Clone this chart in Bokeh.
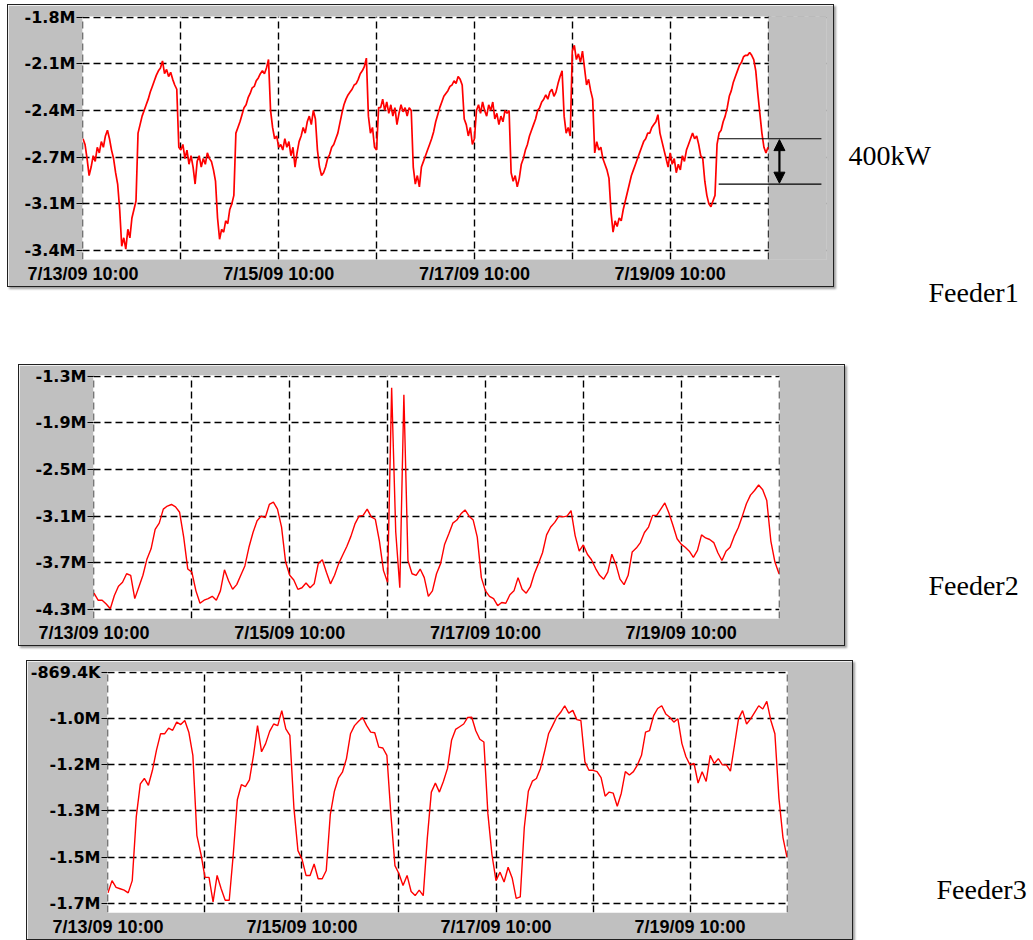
import numpy as np
from bokeh.plotting import figure
from bokeh.models import Range1d, FixedTicker, Arrow, NormalHead, Spacer
from bokeh.layouts import row, column
from bokeh.embed import file_html
from bokeh.resources import INLINE
from bokeh.core.properties import value

# ---------------- data ----------------
# x axis: hours after 7/13/09 10:00
X_TICK_HOURS = [0, 48, 96, 144]
X_TICK_LABELS = ["7/13/09 10:00", "7/15/09 10:00", "7/17/09 10:00", "7/19/09 10:00"]
X_GRID_HOURS = [0, 24, 48, 72, 96, 120, 144, 168]

# Feeder 1: 30-minute samples, MW
F1_STEP_H = 0.5
F1_MW = [
    -2.66, -2.70, -2.80, -2.92, -2.86, -2.78, -2.82, -2.72, -2.76, -2.68, -2.72, -2.64,
    -2.60, -2.66, -2.74, -2.80, -2.90, -2.98, -3.16, -3.42, -3.36, -3.44, -3.30, -3.36,
    -3.22, -3.16, -3.10, -2.62, -2.56, -2.50, -2.46, -2.42, -2.38, -2.33, -2.29, -2.25,
    -2.21, -2.18, -2.16, -2.11, -2.20, -2.17, -2.22, -2.19, -2.24, -2.28, -2.31, -2.72,
    -2.74, -2.70, -2.80, -2.74, -2.84, -2.78, -2.86, -2.98, -2.82, -2.78, -2.86, -2.80,
    -2.84, -2.76, -2.80, -2.82, -2.88, -2.96, -3.22, -3.37, -3.30, -3.32, -3.24, -3.26,
    -3.16, -3.12, -3.06, -2.62, -2.58, -2.54, -2.49, -2.44, -2.42, -2.37, -2.34, -2.30,
    -2.29, -2.25, -2.23, -2.20, -2.18, -2.20, -2.16, -2.10, -2.46, -2.58, -2.66, -2.64,
    -2.72, -2.70, -2.74, -2.66, -2.72, -2.68, -2.78, -2.72, -2.86, -2.76, -2.68, -2.64,
    -2.58, -2.62, -2.54, -2.50, -2.56, -2.46, -2.52, -2.74, -2.86, -2.92, -2.90, -2.86,
    -2.80, -2.77, -2.72, -2.70, -2.66, -2.62, -2.55, -2.48, -2.42, -2.38, -2.35, -2.33,
    -2.31, -2.28, -2.27, -2.24, -2.20, -2.18, -2.15, -2.09, -2.50, -2.62, -2.58, -2.72,
    -2.74, -2.44, -2.44, -2.38, -2.46, -2.40, -2.48, -2.42, -2.50, -2.44, -2.56, -2.48,
    -2.42, -2.47, -2.44, -2.50, -2.44, -2.46, -2.86, -2.98, -2.92, -3.00, -2.86, -2.82,
    -2.78, -2.74, -2.70, -2.66, -2.61, -2.54, -2.49, -2.44, -2.40, -2.36, -2.34, -2.32,
    -2.29, -2.28, -2.25, -2.27, -2.22, -2.24, -2.28, -2.52, -2.56, -2.64, -2.58, -2.70,
    -2.66, -2.46, -2.42, -2.48, -2.40, -2.46, -2.50, -2.42, -2.46, -2.40, -2.52, -2.48,
    -2.56, -2.50, -2.54, -2.46, -2.48, -2.46, -2.90, -2.96, -2.92, -3.00, -2.94, -2.84,
    -2.80, -2.74, -2.70, -2.64, -2.60, -2.56, -2.52, -2.46, -2.44, -2.40, -2.38, -2.35,
    -2.38, -2.33, -2.31, -2.36, -2.33, -2.27, -2.22, -2.18, -2.50, -2.62, -2.58, -2.64,
    -2.04, -2.00, -2.10, -2.06, -2.12, -2.04, -2.16, -2.28, -2.24, -2.32, -2.38, -2.76,
    -2.68, -2.74, -2.72, -2.80, -2.84, -2.88, -2.94, -3.18, -3.32, -3.24, -3.28, -3.22,
    -3.24, -3.16, -3.10, -3.04, -2.98, -2.92, -2.88, -2.84, -2.80, -2.76, -2.72, -2.68,
    -2.66, -2.62, -2.62, -2.58, -2.56, -2.54, -2.49, -2.62, -2.68, -2.74, -2.80, -2.86,
    -2.76, -2.84, -2.80, -2.90, -2.84, -2.88, -2.78, -2.82, -2.74, -2.70, -2.66, -2.62,
    -2.66, -2.64, -2.70, -2.78, -2.80, -2.96, -3.06, -3.12, -3.14, -3.10, -3.06, -2.70,
    -2.62, -2.60, -2.54, -2.50, -2.44, -2.36, -2.32, -2.26, -2.22, -2.18, -2.14, -2.12,
    -2.08, -2.07, -2.07, -2.05, -2.07, -2.10, -2.18, -2.34, -2.48, -2.62, -2.72, -2.76,
    -2.72,
]
F1_Y_TICKS = [-1.80, -2.13, -2.46, -2.79, -3.12, -3.45]
F1_Y_LABELS = ["-1.8M", "-2.1M", "-2.4M", "-2.7M", "-3.1M", "-3.4M"]

# Feeder 2: hourly samples, MW
F2_STEP_H = 1.0
F2_MW = [
    -4.09, -4.18, -4.18, -4.23, -4.29, -4.12, -4.00, -3.95, -3.84, -3.86, -4.16, -4.01,
    -3.86, -3.65, -3.52, -3.27, -3.19, -3.01, -2.97, -2.95, -2.98, -3.05, -3.37, -3.78,
    -3.82, -4.06, -4.22, -4.18, -4.16, -4.13, -4.18, -4.06, -3.79, -3.93, -4.04, -3.98,
    -3.86, -3.74, -3.50, -3.31, -3.16, -3.10, -3.12, -2.95, -2.92, -3.01, -3.24, -3.69,
    -3.86, -3.92, -4.04, -4.02, -3.96, -4.02, -3.97, -3.71, -3.66, -3.82, -3.97, -3.86,
    -3.71, -3.60, -3.49, -3.36, -3.20, -3.10, -3.09, -3.01, -3.11, -3.14, -3.42, -3.80,
    -3.95, -1.45, -3.30, -4.02, -1.54, -3.67, -3.84, -3.86, -3.78, -3.89, -4.13, -4.06,
    -3.84, -3.71, -3.46, -3.33, -3.19, -3.15, -3.07, -3.02, -3.10, -3.15, -3.37, -3.89,
    -4.06, -4.13, -4.16, -4.25, -4.21, -4.22, -4.11, -4.06, -3.89, -4.04, -4.09, -4.01,
    -3.84, -3.71, -3.57, -3.34, -3.24, -3.18, -3.10, -3.11, -3.10, -3.03, -3.35, -3.55,
    -3.47, -3.59, -3.66, -3.77, -3.86, -3.91, -3.82, -3.59, -3.72, -3.91, -3.98, -3.86,
    -3.56, -3.51, -3.44, -3.31, -3.24, -3.09, -3.09, -3.01, -2.93, -3.06, -3.22, -3.39,
    -3.46, -3.50, -3.55, -3.63, -3.54, -3.34, -3.38, -3.40, -3.44, -3.57, -3.67, -3.55,
    -3.50, -3.36, -3.25, -3.10, -2.94, -2.83, -2.77, -2.70, -2.76, -2.90, -3.42, -3.69,
    -3.84,
]
F2_Y_TICKS = [-1.3, -1.9, -2.5, -3.1, -3.7, -4.3]
F2_Y_LABELS = ["-1.3M", "-1.9M", "-2.5M", "-3.1M", "-3.7M", "-4.3M"]

# Feeder 3: hourly samples, MW
F3_STEP_H = 1.0
F3_MW = [
    -1.680, -1.635, -1.660, -1.665, -1.670, -1.680, -1.635, -1.400, -1.280, -1.260, -1.285, -1.230,
    -1.156, -1.096, -1.096, -1.075, -1.083, -1.053, -1.062, -1.047, -1.090, -1.175, -1.470, -1.538,
    -1.623, -1.623, -1.713, -1.616, -1.665, -1.707, -1.707, -1.538, -1.338, -1.283, -1.290, -1.265,
    -1.175, -1.066, -1.162, -1.132, -1.087, -1.060, -1.066, -1.011, -1.078, -1.102, -1.368, -1.525,
    -1.556, -1.616, -1.616, -1.574, -1.628, -1.628, -1.598, -1.393, -1.308, -1.259, -1.237, -1.187,
    -1.096, -1.066, -1.050, -1.036, -1.066, -1.090, -1.092, -1.145, -1.148, -1.175, -1.393, -1.580,
    -1.610, -1.653, -1.616, -1.675, -1.690, -1.670, -1.690, -1.480, -1.310, -1.277, -1.310, -1.270,
    -1.223, -1.120, -1.080, -1.070, -1.060, -1.036, -1.035, -1.085, -1.116, -1.126, -1.390, -1.540,
    -1.635, -1.604, -1.640, -1.586, -1.625, -1.700, -1.695, -1.440, -1.307, -1.270, -1.260, -1.223,
    -1.162, -1.096, -1.066, -1.035, -1.017, -0.993, -1.020, -1.010, -1.044, -1.047, -1.199, -1.230,
    -1.230, -1.235, -1.257, -1.325, -1.310, -1.314, -1.362, -1.314, -1.235, -1.247, -1.235, -1.210,
    -1.175, -1.090, -1.084, -1.029, -1.003, -0.993, -1.023, -1.035, -1.053, -1.041, -1.132, -1.180,
    -1.210, -1.205, -1.277, -1.235, -1.271, -1.175, -1.205, -1.187, -1.210, -1.210, -1.233, -1.138,
    -1.041, -1.011, -1.060, -1.041, -1.017, -0.993, -1.005, -0.977, -1.047, -1.096, -1.332, -1.477,
    -1.550,
]
F3_Y_TICKS = [-0.8694, -1.0394, -1.2094, -1.3794, -1.5494, -1.7194]
F3_Y_LABELS = ["-869.4K", "-1.0M", "-1.2M", "-1.3M", "-1.5M", "-1.7M"]

# 400 kW marker on feeder 1 (hours, MW)
MARK_T0, MARK_T1, MARK_X = 155.9, 181.1, 170.8
MARK_HI, MARK_LO = -2.66, -2.98
MARK_TEXT = "400kW"
FEEDER_NAMES = ["Feeder1", "Feeder2", "Feeder3"]

# ---------------- styling ----------------
GRAY = "#c0c0c0"
PX_PER_H = 686 / 168.24
PANEL_W = 825
DATA_END_H = 168.12
BOX_STYLE = {"box-shadow": "0 0 0 1px #202020, 2px 2px 2px 1px #a0a0a0"}


def make_panel(series, step_h, yticks, ylabels, height, top, bottom, frame_w=686, lw=1.4):
    span = yticks[0] - yticks[-1]
    per_px = span / 234.0
    x_end = -0.12 + frame_w / PX_PER_H
    y_lo = yticks[-1] - 9 * per_px
    y_hi = yticks[0] + 0.6 * per_px
    wide = frame_w > 686
    p = figure(width=PANEL_W, height=height,
               x_range=Range1d(-0.12, x_end), y_range=Range1d(y_lo, y_hi),
               output_backend="svg", toolbar_location=None,
               min_border_left=74, min_border_right=PANEL_W - 74 - frame_w,
               min_border_top=top, min_border_bottom=bottom,
               background_fill_color=GRAY if wide else "white", border_fill_color=GRAY,
               outline_line_color=None)
    p.styles = BOX_STYLE

    xa = p.xaxis[0]
    xa.ticker = FixedTicker(ticks=X_TICK_HOURS)
    xa.major_label_overrides = dict(zip(X_TICK_HOURS, X_TICK_LABELS))
    xa.axis_line_color = None
    xa.major_tick_line_color = None
    xa.minor_tick_line_color = None
    xa.major_label_standoff = -2
    xa.major_label_text_font = "Liberation Sans"
    xa.major_label_text_font_style = "bold"
    xa.major_label_text_font_size = "18px"
    xa.major_label_text_color = "black"

    ya = p.yaxis[0]
    ya.ticker = FixedTicker(ticks=yticks)
    ya.major_label_overrides = dict(zip(yticks, ylabels))
    ya.axis_line_color = None
    ya.major_tick_out = 6
    ya.major_tick_in = 0
    ya.major_tick_line_color = "black"
    ya.major_tick_line_width = 1
    ya.minor_tick_line_color = None
    ya.major_label_standoff = 1
    ya.major_label_text_font = "DejaVu Sans"
    ya.major_label_text_font_style = "bold"
    ya.major_label_text_font_size = "16px"
    ya.major_label_text_color = "black"

    p.xgrid.ticker = FixedTicker(ticks=X_GRID_HOURS)
    for g in (p.xgrid[0], p.ygrid[0]):
        g.grid_line_color = "#000000"
        g.grid_line_dash = "7 4"
        g.grid_line_width = 1.4
        g.grid_line_alpha = 1.0

    if wide:
        # white plotting area below the grid, gray margin continued over the grid
        p.quad(left=[-5], right=[DATA_END_H], bottom=[y_lo - span], top=[y_hi + span],
               fill_color="white", line_color=None, level="image")
        p.quad(left=[DATA_END_H + 0.05], right=[x_end + 5], bottom=[y_lo - span],
               top=[y_hi + span], fill_color=GRAY, line_color=None)

    xs = np.arange(len(series)) * step_h
    p.line(xs, series, line_color="#ff0000", line_width=lw)
    return p


def text_panel(w, h, xs, ys, texts):
    # data units == pixels from the top-left of this strip
    p = figure(width=w, height=h, x_range=Range1d(0, w), y_range=Range1d(h - 19.5, 19.5),
               x_axis_type=None, y_axis_type=None,
               output_backend="svg", toolbar_location=None, min_border=0,
               outline_line_color=None, background_fill_alpha=0, border_fill_alpha=0)
    p.text(x=xs, y=ys, text=texts, text_font=value("Liberation Serif"),
           text_font_size="28px", text_color="black",
           text_baseline="alphabetic", text_align="left")
    return p


# Panel 1 (wider frame so the marker can extend over the gray margin)
p1 = make_panel(F1_MW, F1_STEP_H, F1_Y_TICKS, F1_Y_LABELS, 281, 11, 27, frame_w=744, lw=1.7)
p1.segment(x0=[MARK_T0, MARK_T0], y0=[MARK_HI, MARK_LO],
           x1=[MARK_T1, MARK_T1], y1=[MARK_HI, MARK_LO],
           line_color="black", line_width=1.2)
p1.add_layout(Arrow(x_start=MARK_X, y_start=MARK_HI - 0.006, x_end=MARK_X, y_end=MARK_LO + 0.006,
                    start=NormalHead(size=11, fill_color="black", line_color="black"),
                    end=NormalHead(size=11, fill_color="black", line_color="black"),
                    line_color="black", line_width=2.2))

p2 = make_panel(F2_MW, F2_STEP_H, F2_Y_TICKS, F2_Y_LABELS, 280, 10, 27)
p3 = make_panel(F3_MW, F3_STEP_H, F3_Y_TICKS, F3_Y_LABELS, 278, 10, 25)

t1 = text_panel(199, 360, [15, 95], [158, 295], [MARK_TEXT, FEEDER_NAMES[0]])
t2 = text_panel(188, 296, [84], [228], [FEEDER_NAMES[1]])
t3 = text_panel(180, 278, [84], [236], [FEEDER_NAMES[2]])

layout = column(
    Spacer(width=10, height=5),
    row(Spacer(width=8, height=10), p1, t1),
    row(Spacer(width=19, height=10), p2, t2),
    row(Spacer(width=27, height=10), p3, t3),
)

open("out.html", "w").write(file_html(layout, INLINE))
